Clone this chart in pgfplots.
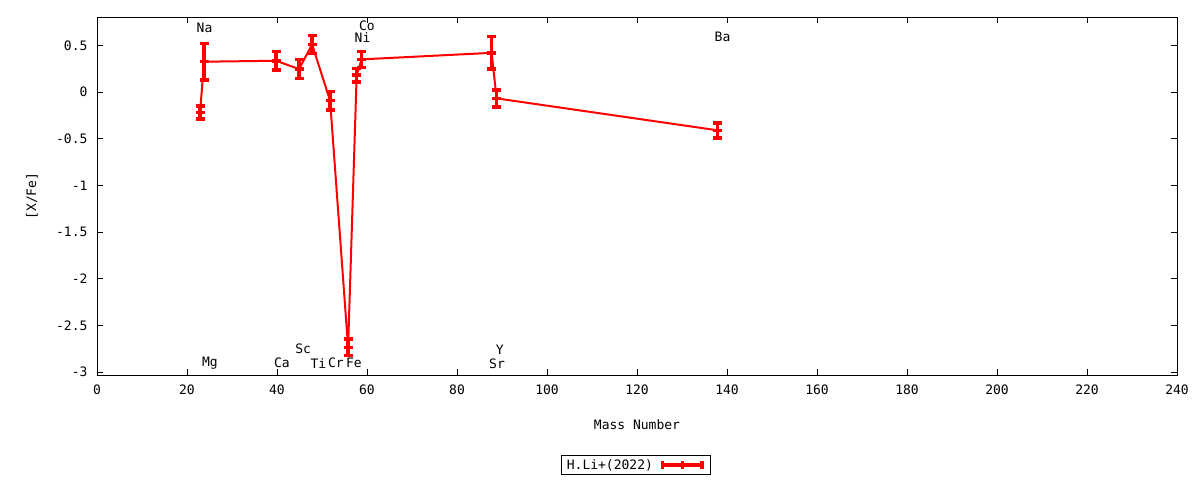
\documentclass[border=0pt]{standalone}
\usepackage{pgfplots}
\pgfplotsset{compat=1.18}
\usepackage{fontspec}
\setmainfont{DejaVu Sans Mono}

\begin{document}
\begin{tikzpicture}[x=1pt,y=1pt,font=\fontsize{13}{15}\selectfont]
  % page frame, 1pt = 1px of the reference
  \path (0,0) rectangle (1200,480);
  \begin{axis}[
    at={(97pt,105pt)}, anchor=south west,
    scale only axis, width=1080pt, height=358pt,
    xmin=0, xmax=240, ymin=-3.032, ymax=0.804,
    xtick={0,20,...,240},
    ytick={-3,-2.5,-2,-1.5,-1,-0.5,0,0.5},
    yticklabels={-3,-2.5,-2,-1.5,-1,-0.5,0,0.5},
    /pgf/number format/assume math mode=true,
    axis line style={black, line width=1pt},
    tick style={black, line width=1pt},
    major tick length=6pt,
    tick align=inside,
    xticklabel style={yshift=-6pt},
    yticklabel style={xshift=-6pt},
    xlabel={Mass Number},
    ylabel={[X/Fe]},
    xlabel style={at={(axis description cs:0.5,-0.1397)}, anchor=center},
    ylabel style={at={(axis description cs:-0.0602,0.5)}, anchor=center},
    legend style={at={(axis description cs:0.499,-0.251)}, anchor=center,
      draw=black, line width=0.8pt, inner xsep=3pt, inner ysep=2pt,
      font=\fontsize{13}{15}\selectfont},
    legend plot pos=right,
    legend cell align=left,
    legend image code/.code={
      \path[draw=none, fill=none] (-6pt,-5pt) rectangle (46pt,5pt);
      \draw[red, line width=3.5pt] (0pt,0pt) -- (43pt,0pt);
      \draw[red, line width=3.5pt] (1.75pt,-4.3pt) -- (1.75pt,4.3pt);
      \draw[red, line width=3.5pt] (41.25pt,-4.3pt) -- (41.25pt,4.3pt);
      \draw[red, line width=3.5pt] (21.5pt,-4.3pt) -- (21.5pt,4.3pt);
    },
    clip=false,
  ]
    \addplot[red, line width=2pt, mark=-, mark size=4.5pt,
      mark options={line width=3.5pt},
      error bars/.cd, y dir=both, y explicit,
      error bar style={red, line width=3.5pt},
      error mark options={rotate=90, red, line width=3.5pt, mark size=4.5pt},
    ] coordinates {
      (22.9,-0.22)  +- (0,0.07)
      (23.8,0.325)  +- (0,0.195)
      (39.8,0.335)  +- (0,0.10)
      (44.9,0.246)  +- (0,0.10)
      (47.8,0.51)   +- (0,0.095)
      (51.8,-0.093) +- (0,0.10)
      (55.8,-2.735) +- (0,0.09)
      (57.7,0.18)   +- (0,0.07)
      (58.8,0.35)   +- (0,0.085)
      (87.7,0.42)   +- (0,0.175)
      (88.8,-0.068) +- (0,0.09)
      (137.9,-0.41) +- (0,0.08)
    };
    \addlegendentry{H.Li+(2022)}
    % element labels
    \node at (axis cs:23.9,0.693) {Na};
    \node at (axis cs:60.0,0.707) {Co};
    \node at (axis cs:59.0,0.586) {Ni};
    \node at (axis cs:139.0,0.586) {Ba};
    \node at (axis cs:25.1,-2.905) {Mg};
    \node at (axis cs:41.1,-2.905) {Ca};
    \node at (axis cs:45.8,-2.755) {Sc};
    \node at (axis cs:49.2,-2.905) {Ti};
    \node at (axis cs:53.1,-2.905) {Cr};
    \node at (axis cs:57.1,-2.905) {Fe};
    \node at (axis cs:89.5,-2.757) {Y};
    \node at (axis cs:88.9,-2.907) {Sr};
  \end{axis}
\end{tikzpicture}
\end{document}
